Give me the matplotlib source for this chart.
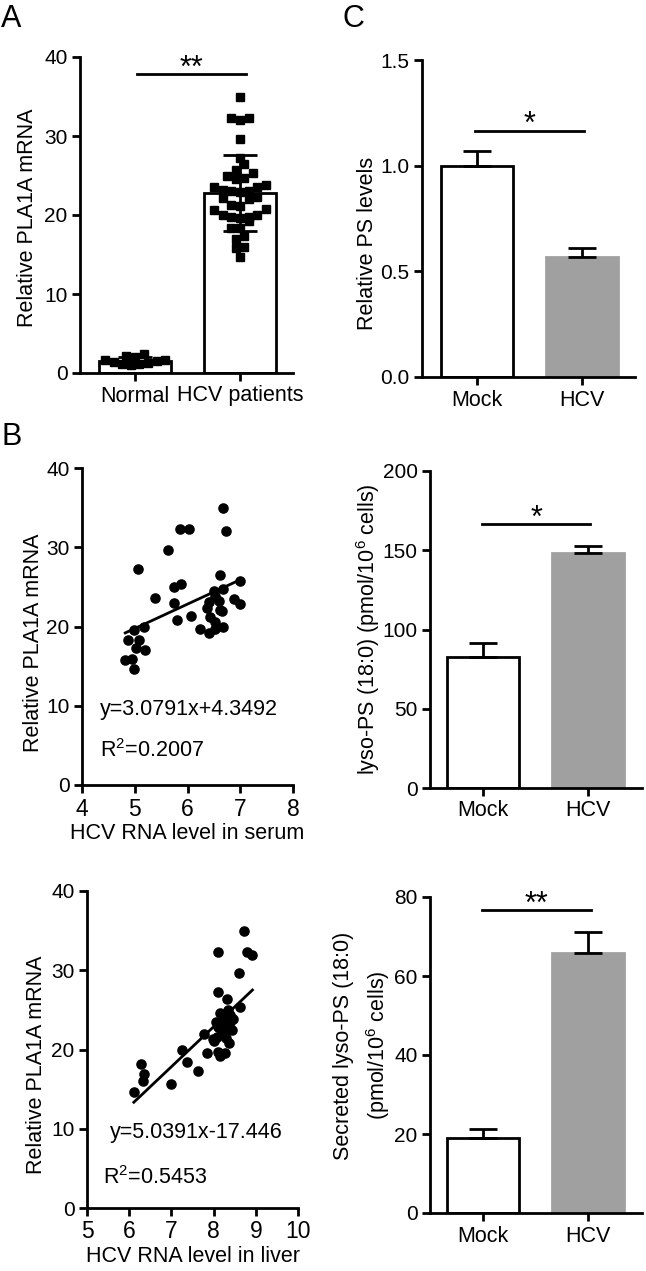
import numpy as np
import matplotlib
matplotlib.use('Agg')
import matplotlib.pyplot as plt

plt.rcParams['font.family'] = ['Liberation Sans', 'DejaVu Sans']
plt.rcParams['mathtext.fontset'] = 'custom'
plt.rcParams['mathtext.rm'] = 'Liberation Sans'
plt.rcParams['mathtext.it'] = 'Liberation Sans:italic'
plt.rcParams['mathtext.bf'] = 'Liberation Sans:bold'

# ---------------- data ----------------
groups_A = ['Normal', 'HCV patients']
normal_vals = [2.4, 2.2, 2.0, 1.7, 1.6, 1.5, 1.4, 1.3, 1.2, 1.1, 1.0]
hcv_vals = [34.9, 32.3, 32.3, 32.0, 29.6, 27.2, 26.5, 25.7, 25.0, 25.3, 23.6, 23.0,
            24.5, 24.7, 23.8, 23.1, 23.2, 23.5, 22.9, 22.3, 22.1, 22.0, 20.8, 21.3,
            21.2, 20.6, 19.7, 19.2, 19.7, 20.0, 19.6, 20.0, 18.3, 18.3, 17.3, 17.0,
            15.8, 15.9, 14.7]
sig_A = '**'

serum_x = [6.67, 5.86, 6.03, 6.73, 5.63, 5.07, 6.61, 6.99, 5.74, 5.87, 5.38, 5.74,
           6.50, 6.67, 6.53, 6.40, 6.59, 6.88, 6.99, 6.37, 6.62, 6.65, 5.80, 6.07,
           6.42, 6.52, 6.23, 6.40, 6.53, 6.68, 4.98, 5.17, 4.88, 5.08, 5.03, 5.20,
           4.82, 4.94, 4.98]
serum_y = [34.9, 32.3, 32.3, 32.0, 29.6, 27.2, 26.5, 25.7, 25.0, 25.3, 23.6, 23.0,
           24.5, 24.7, 23.8, 23.1, 23.2, 23.5, 22.9, 22.3, 22.1, 22.0, 20.8, 21.3,
           21.2, 20.6, 19.7, 19.2, 19.7, 20.0, 19.6, 20.0, 18.3, 18.3, 17.3, 17.0,
           15.8, 15.9, 14.7]
serum_fit = (3.0791, 4.3492)
serum_eq = 'y=3.0791x+4.3492'
serum_r2 = '0.2007'

liver_x = [8.73, 8.11, 8.79, 8.92, 8.60, 8.11, 8.31, 8.63, 8.15, 8.35, 8.39, 8.06,
           8.22, 8.39, 8.11, 8.31, 8.19, 7.77, 7.99, 8.07, 8.36, 8.11, 7.84, 8.15,
           8.27, 7.24, 7.36, 7.62, 7.00, 6.28, 6.35, 6.33, 6.11, 8.43, 8.20, 8.25,
           8.30, 8.45, 8.02]
liver_y = [34.9, 32.3, 32.3, 31.9, 29.6, 27.2, 26.4, 25.3, 24.6, 25.0, 24.3, 23.5,
           23.6, 23.5, 22.9, 22.9, 22.2, 22.0, 21.3, 21.6, 20.8, 19.7, 19.6, 19.2,
           19.6, 19.9, 18.4, 17.3, 15.7, 18.2, 16.9, 16.0, 14.7, 22.4, 23.2, 22.5,
           21.5, 23.8, 21.1]
liver_fit = (5.0391, -17.446)
liver_eq = 'y=5.0391x-17.446'
liver_r2 = '0.5453'

groups_C = ['Mock', 'HCV']
ps_mean = [1.00, 0.57]
ps_err = [0.07, 0.04]
ps_sig = '*'
lyso_mean = [82.8, 148.1]
lyso_err = [8.5, 4.8]
lyso_sig = '*'
sec_mean = [18.9, 65.9]
sec_err = [2.4, 5.3]
sec_sig = '**'

# ---------------- layout ----------------
W, H = 646, 1271
fig = plt.figure(figsize=(W / 100, H / 100), dpi=100)

def rect(l, r, t, b):
    return [l / W, 1 - b / H, (r - l) / W, (b - t) / H]

FS = 15.5
TFS = 15
SFS = 22
LW = 2.0
GRAY = '#a0a0a0'

def style(ax):
    for s in ['top', 'right']:
        ax.spines[s].set_visible(False)
    for s in ['left', 'bottom']:
        ax.spines[s].set_linewidth(LW)
    ax.tick_params(direction='out', length=6, width=LW, labelsize=TFS, pad=3)

def sig_bracket(ax, x0, x1, y, text):
    ax.plot([x0, x1], [y, y], color='black', lw=LW, clip_on=False)
    ax.annotate(text, xy=((x0 + x1) / 2, y), xytext=(0, -2), textcoords='offset points',
                ha='center', va='baseline', fontsize=SFS, annotation_clip=False)

def row_offsets(vals, binw, spacing):
    vals = np.asarray(vals, float)
    bins = np.floor(vals / binw)
    offs = np.zeros(len(vals))
    for b in np.unique(bins):
        idx = np.where(bins == b)[0]
        idx = idx[np.argsort(vals[idx])]
        n = len(idx)
        pos = (np.arange(n) - (n - 1) / 2.0) * spacing
        order = np.argsort(np.abs(pos), kind='stable')
        for j, k in enumerate(order):
            offs[idx[j]] = pos[k]
    return offs

# ---------------- Panel A ----------------
axA = fig.add_axes(rect(80, 293, 57, 373))
style(axA)
xA = np.arange(len(groups_A))
data_A = [normal_vals, hcv_vals]
bin_A = [1.0, 1.5]
means_A = [np.mean(d) for d in data_A]
sds_A = [np.std(d, ddof=1) for d in data_A]
axA.bar(xA, means_A, width=0.68, color='white', edgecolor='black', linewidth=LW, zorder=1)
for xi, d, bw in zip(xA, data_A, bin_A):
    offs = row_offsets(d, bw, 8.6 / 105.0)
    axA.plot(xi + offs, d, 's', color='black', markersize=5.8, zorder=2)
axA.errorbar(xA, means_A, yerr=sds_A, fmt='none', ecolor='black', elinewidth=LW,
             capsize=12, capthick=LW, zorder=3)
axA.set_xlim(-0.524, 1.505)
axA.set_ylim(0, 40)
axA.set_yticks([0, 10, 20, 30, 40])
axA.set_xticks(xA)
axA.set_xticklabels(groups_A, fontsize=FS)
axA.set_ylabel('Relative PLA1A mRNA', fontsize=FS, va='center')
axA.yaxis.set_label_coords(-0.245, 0.49)
sig_bracket(axA, 0.02, 1.06, 37.8, sig_A)

# ---------------- Panel B ----------------
def scatter_panel(r, xs, ys, fit, eq, r2, xlim, xticks, xlabel, eqpos, r2pos, ylab_y):
    ax = fig.add_axes(r)
    style(ax)
    ax.plot(xs, ys, 'o', color='black', markersize=6.6, zorder=2)
    xx = np.array([min(xs), max(xs)])
    ax.plot(xx, fit[0] * xx + fit[1], color='black', lw=LW, zorder=3)
    ax.set_xlim(*xlim)
    ax.set_ylim(0, 40)
    ax.set_xticks(xticks)
    ax.set_yticks([0, 10, 20, 30, 40])
    ax.set_xlabel(xlabel, fontsize=FS, labelpad=2)
    ax.set_ylabel('Relative PLA1A mRNA', fontsize=FS, va='center')
    ax.yaxis.set_label_coords(ylab_y[0], ylab_y[1])
    ax.text(eqpos[0], eqpos[1], eq, fontsize=FS, ha='left', va='center')
    ax.text(r2pos[0], r2pos[1], r'R$\mathregular{^2}$=' + r2, fontsize=FS, ha='left', va='center')
    for t in ax.get_xticklabels():
        t.set_fontsize(FS + 1)
    return ax

scatter_panel(rect(82, 293, 468, 785), serum_x, serum_y, serum_fit, serum_eq, serum_r2,
              (4, 8), [4, 5, 6, 7, 8], 'HCV RNA level in serum',
              (4.34, 9.5), (4.34, 4.4), (-0.232, 0.448))
scatter_panel(rect(87, 298, 891, 1208), liver_x, liver_y, liver_fit, liver_eq, liver_r2,
              (5, 10), [5, 6, 7, 8, 9, 10], 'HCV RNA level in liver',
              (5.55, 9.5), (5.38, 3.8), (-0.237, 0.451))

# ---------------- Panel C ----------------
def bar_panel(r, means, errs, ylim, yticks, yticklabels, ylabel, ylab_pos, xlim, sig, sig_y, sig_x):
    ax = fig.add_axes(r)
    style(ax)
    x = np.arange(len(groups_C))
    ax.bar(x, means, width=0.68, color=['white', GRAY], edgecolor=['black', GRAY],
           linewidth=LW, zorder=1)
    ax.errorbar(x, means, yerr=[[0, 0], errs], fmt='none', ecolor='black',
                elinewidth=LW, capsize=10, capthick=LW, zorder=2)
    ax.set_xlim(*xlim)
    ax.set_ylim(*ylim)
    ax.set_yticks(yticks)
    ax.set_yticklabels(yticklabels)
    ax.set_xticks(x)
    ax.set_xticklabels(groups_C, fontsize=FS)
    ax.set_ylabel(ylabel, fontsize=FS, va='center', ha='center', multialignment='center',
                  linespacing=1.45)
    ax.yaxis.set_label_coords(ylab_pos[0], ylab_pos[1])
    sig_bracket(ax, sig_x[0], sig_x[1], sig_y, sig)
    return ax

bar_panel(rect(422, 635, 60, 377), ps_mean, ps_err, (0, 1.5), [0, 0.5, 1.0, 1.5],
          ['0.0', '0.5', '1.0', '1.5'], 'Relative PS levels', (-0.255, 0.42),
          (-0.524, 1.505), ps_sig, 1.166, [-0.02, 1.02])
bar_panel(rect(430, 642, 471, 788), lyso_mean, lyso_err, (0, 200), [0, 50, 100, 150, 200],
          ['0', '50', '100', '150', '200'],
          r'lyso-PS (18:0) (pmol/10$\mathregular{^6}$ cells)', (-0.29, 0.50),
          (-0.505, 1.514), lyso_sig, 166.4, [-0.01, 1.02])
bar_panel(rect(430, 642, 897, 1213), sec_mean, sec_err, (0, 80), [0, 20, 40, 60, 80],
          ['0', '20', '40', '60', '80'],
          'Secreted lyso-PS (18:0)\n' + r'(pmol/10$\mathregular{^6}$ cells)', (-0.318, 0.53),
          (-0.505, 1.514), sec_sig, 76.7, [-0.01, 1.03])

# panel letters
fig.text(1 / W, 1 - 4 / H, 'A', fontsize=22, ha='left', va='top')
fig.text(1 / W, 1 - 422 / H, 'B', fontsize=22, ha='left', va='top')
fig.text(342 / W, 1 - 4 / H, 'C', fontsize=22, ha='left', va='top')

fig.savefig('out.png', dpi=100)
